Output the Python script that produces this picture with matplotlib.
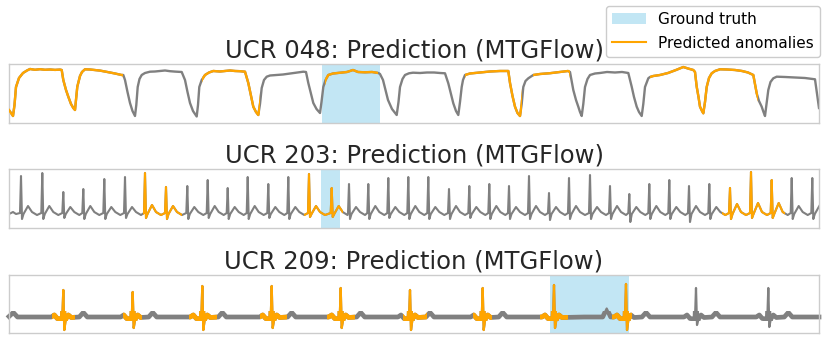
import numpy as np
import matplotlib
matplotlib.use("Agg")
import matplotlib.pyplot as plt
from matplotlib.patches import Patch, Rectangle
from matplotlib.lines import Line2D

# ---------------- data ----------------
titles = ["UCR 048: Prediction (MTGFlow)",
          "UCR 203: Prediction (MTGFlow)",
          "UCR 209: Prediction (MTGFlow)"]

ucr048_t = [0, 2, 4, 5.5, 7, 10, 14, 18, 21, 26, 31, 36, 41, 46, 51, 52.7,
            54.3, 57, 59.3, 62, 64.3, 66,
            67, 68.3, 71, 73, 76, 81, 86, 91, 96, 101, 106, 112.7, 114.3,
            116, 118.5, 121, 123.5, 126,
            127.3, 128.7, 130.5, 132.7, 136, 141, 146, 151, 156, 161, 166, 172.7,
            176, 178.5, 181, 184, 187.7,
            189, 190.3, 192.7, 196, 200, 204.3, 211, 216, 221, 226, 231, 236,
            239.3, 242, 244.3, 247, 249.3,
            251, 252.7, 255, 257.7, 261, 267.7, 274, 281, 288, 294.3, 297,
            299.3, 302, 304.3, 307.5, 311,
            312.5, 314.3, 316.5, 319.3, 324, 331, 338, 344, 349, 356, 363, 369.3, 371,
            374, 376.5, 379, 383, 387.7,
            389.5, 391, 393.5, 396, 400, 404, 411, 418, 425, 431, 436,
            439.3, 442, 444.3, 447, 449.3,
            451, 452.7, 454, 456, 461, 471, 481, 491, 499.3,
            501, 503.5, 506, 508.5, 511,
            512.7, 514.3, 516.5, 519.3, 524.3, 531, 541, 551, 559, 561,
            564.3, 567, 569.3, 571, 572.7,
            574.3, 576, 578.5, 581, 586, 591, 598, 606, 613, 619.3,
            622.7, 625, 627.7, 630, 632.7,
            634.3, 636, 639.3, 641, 644.3, 651, 659, 667, 674.3, 679, 684.3, 686,
            687.7, 689.5, 691, 693, 694.3,
            696, 697.7, 700, 702.7, 706, 711, 718, 726, 733, 739, 744.3,
            747.7, 750, 752.7, 754.5, 756,
            757.5, 759.3, 761.5, 764.3, 767.7, 776, 786, 796, 806, 809.3, 810]
ucr048_v = [0.6, 0.3, 0.0, 1.1, 2.9, 3.8, 4.3, 4.55, 4.7, 4.62, 4.68, 4.62, 4.65, 4.61, 4.64, 4.6,
            3.6, 2.6, 1.93, 1.2, 0.8, 0.6,
            1.6, 2.93, 4.0, 4.4, 4.67, 4.65, 4.6, 4.54, 4.45, 4.35, 4.25, 4.1, 4.1,
            3.6, 2.4, 1.3, 0.5, 0.0,
            1.1, 2.9, 3.7, 4.1, 4.3, 4.43, 4.45, 4.5, 4.55, 4.48, 4.44, 4.4,
            3.6, 2.4, 1.3, 0.5, -0.05,
            1.1, 2.9, 3.6, 4.1, 4.35, 4.5, 4.45, 4.5, 4.55, 4.5, 4.48, 4.43,
            3.3, 2.0, 0.93, 0.4, 0.1,
            1.2, 2.8, 3.6, 3.93, 4.05, 4.1, 4.15, 4.25, 4.35, 4.43, 4.4,
            3.3, 2.2, 1.3, 0.7, 0.3,
            1.4, 2.9, 3.6, 4.1, 4.25, 4.33, 4.4, 4.6, 4.4, 4.37, 4.4, 4.3, 4.2,
            3.6, 2.6, 1.6, 0.7, 0.1,
            1.4, 2.9, 3.7, 4.1, 4.27, 4.33, 4.3, 4.35, 4.35, 4.3, 4.27,
            3.27, 2.2, 1.27, 0.5, 0.1,
            1.4, 2.9, 3.6, 4.1, 4.25, 4.35, 4.45, 4.5, 4.5,
            3.3, 2.0, 0.93, 0.3, 0.0,
            1.2, 2.9, 3.5, 3.77, 4.1, 4.2, 4.28, 4.4, 4.5, 4.4,
            2.6, 1.6, 0.93, 0.4, 0.0,
            1.2, 2.9, 3.7, 4.1, 4.25, 4.3, 4.4, 4.35, 4.4, 4.3,
            2.93, 1.9, 0.93, 0.4, 0.0,
            1.2, 2.9, 3.77, 3.9, 4.0, 4.1, 4.3, 4.6, 4.9, 4.75, 4.6, 4.4,
            2.93, 1.9, 0.93, 0.5, 0.27,
            1.4, 2.9, 3.8, 4.27, 4.5, 4.67, 4.65, 4.6, 4.5, 4.35, 4.1,
            2.27, 1.5, 0.93, 0.4, 0.0,
            1.2, 2.6, 3.4, 3.77, 3.93, 3.9, 3.85, 3.8, 3.67, 1.27, 0.8]

ucr203_t = [0, 4, 7,
            11, 12, 13, 14.5, 19, 23, 28,
            32.3, 33.3, 34.3, 35.8, 40.3, 44.3, 49.3,
            53.3, 54.3, 55.3, 56.8, 61.3, 65.3, 70.3,
            73.3, 74.3, 75.3, 76.8, 81.3, 85.3, 90.3,
            94.3, 95.3, 96.3, 97.8, 102.3, 106.3, 111.3,
            115, 116, 117, 118.5, 123, 127, 132,
            135, 136, 137, 138.5, 143, 147, 152,
            156, 157, 158, 159.5, 164, 168, 173,
            177.3, 178.3, 179.3, 180.8, 185.3, 189.3, 194.3,
            197.7, 198.7, 199.7, 201.2, 205.7, 209.7, 214.7,
            217.7, 218.7, 219.7, 221.2, 225.7, 229.7, 234.7,
            237.7, 238.7, 239.7, 241.2, 245.7, 249.7, 254.7,
            258.3, 259.3, 260.3, 261.8, 266.3, 270.3, 275.3,
            278.3, 279.3, 280.3, 281.8, 286.3, 290.3, 295.3,
            299, 300, 301, 302.5, 307, 311, 316,
            321.7, 322.7, 323.7, 325.2, 329.7, 333.7, 338.5,
            339, 340, 341, 342.5, 347, 351, 356,
            358.3, 359.3, 360.3, 361.8, 366.3, 370.3, 375.3,
            378.3, 379.3, 380.3, 381.8, 386.3, 390.3, 395.3,
            398.3, 399.3, 400.3, 401.8, 406.3, 410.3, 415.3,
            418.3, 419.3, 420.3, 421.8, 426.3, 430.3, 435.3,
            439, 440, 441, 442.5, 447, 451, 456,
            459.3, 460.3, 461.3, 462.8, 467.3, 471.3, 476.3,
            479.3, 480.3, 481.3, 482.8, 487.3, 491.3, 496.3,
            499, 500, 501, 502.5, 507, 511, 516,
            519, 520, 521, 522.5, 527, 531, 536,
            539, 540, 541, 542.5, 547, 551, 556,
            559, 560, 561, 562.5, 567, 571, 576,
            580, 581, 582, 583.5, 588, 592, 597,
            600, 601, 602, 603.5, 608, 612, 617,
            619.3, 620.3, 621.3, 622.8, 627.3, 631.3, 636.3,
            639.3, 640.3, 641.3, 642.8, 647.3, 651.3, 656.3,
            659.3, 660.3, 661.3, 662.8, 667.3, 671.3, 676.3,
            679, 680, 681, 682.5, 687, 691, 696,
            699.3, 700.3, 701.3, 702.8, 707.3, 711.3, 716.3,
            720, 721, 722, 723.5, 728, 732, 737,
            741, 742, 743, 744.5, 749, 753, 758,
            761.7, 762.7, 763.7, 765.2, 769.7, 773.7, 778.7,
            781.7, 782.7, 783.7, 785.2, 789.7, 793.7, 798.7,
            802.3, 803.3, 804.3, 805.8, 810.3]
ucr203_v = [-0.1, 0.1, -0.1,
            0.0, 3.7, -0.6, -0.1, 0.7, 0.1, -0.2,
            0.0, 4.0, -0.6, -0.1, 0.7, 0.1, -0.2,
            0.0, 2.1, -0.5, -0.1, 0.6, 0.1, -0.2,
            0.0, 2.4, -0.6, -0.1, 0.7, 0.1, -0.2,
            0.0, 3.4, -0.6, -0.1, 0.6, 0.1, -0.2,
            0.0, 3.6, -0.5, -0.1, 0.6, 0.1, -0.2,
            0.0, 4.0, -0.5, -0.1, 0.8, 0.1, -0.2,
            0.0, 2.6, -0.6, -0.1, 0.7, 0.1, -0.2,
            0.0, 2.7, -0.6, -0.1, 0.6, 0.1, -0.2,
            0.0, 3.3, -0.5, -0.1, 0.7, 0.1, -0.2,
            0.0, 2.5, -0.6, -0.1, 0.6, 0.1, -0.2,
            0.0, 3.6, -0.6, -0.1, 0.7, 0.1, -0.2,
            0.0, 2.9, -0.5, -0.1, 0.6, 0.1, -0.2,
            0.0, 3.6, -0.6, -0.1, 0.6, 0.1, -0.2,
            0.0, 3.9, -0.4, -0.1, 0.7, 0.1, -0.2,
            0.0, 2.5, -0.4, -0.1, 0.7, 0.1, -0.2,
            0.0, 2.9, -0.6, -0.1, 0.6, 0.1, -0.2,
            0.0, 2.9, -0.6, -0.1, 0.7, 0.1, -0.2,
            0.0, 3.5, -0.5, -0.1, 0.6, 0.1, -0.2,
            0.0, 3.6, -0.6, -0.1, 0.7, 0.1, -0.2,
            0.0, 3.6, -0.6, -0.1, 0.6, 0.1, -0.2,
            0.0, 2.4, -0.6, -0.1, 0.7, 0.1, -0.2,
            0.0, 2.7, -0.5, -0.1, 0.6, 0.1, -0.2,
            0.0, 2.9, -0.6, -0.1, 0.7, 0.1, -0.2,
            0.0, 2.7, -0.6, -0.1, 0.6, 0.1, -0.2,
            0.0, 3.7, -0.6, -0.1, 0.7, 0.1, -0.2,
            0.0, 2.0, -0.7, -0.1, 0.6, 0.1, -0.2,
            0.0, 3.5, -0.6, -0.1, 0.7, 0.1, -0.2,
            0.0, 3.8, -0.6, -0.1, 0.6, 0.1, -0.2,
            0.0, 2.7, -0.6, -0.1, 0.7, 0.1, -0.2,
            0.0, 1.9, -0.9, -0.1, 0.6, 0.1, -0.2,
            0.0, 2.9, -0.6, -0.1, 0.7, 0.1, -0.2,
            0.0, 3.3, -0.6, -0.1, 0.6, 0.1, -0.2,
            0.0, 2.7, -0.9, -0.1, 0.7, 0.1, -0.2,
            0.0, 2.9, -0.6, -0.1, 0.6, 0.1, -0.2,
            0.0, 2.5, -0.6, -0.1, 0.9, 0.1, -0.2,
            0.0, 4.1, -0.5, -0.1, 1.0, 0.1, -0.2,
            0.0, 3.3, -0.5, -0.1, 1.0, 0.1, -0.2,
            0.0, 3.5, -0.6, -0.1, 0.7, 0.1, -0.2,
            0.0, 3.5, -0.6, -0.1, 0.7]

ucr209_t = [0, 4.3, 8.5, 30,
            42.3, 45.3, 48.3, 53.3, 54.3, 55.3, 56.8, 59.3, 62.3, 70.3, 74.3, 78.3, 99.3,
            111.7, 114.7, 117.7, 122.7, 123.7, 124.7, 126.2, 128.7, 131.7, 139.7, 143.7, 147.7, 168.7,
            181.3, 184.3, 187.3, 192.3, 193.3, 194.3, 195.8, 198.3, 201.3, 209.3, 213.3, 217.3, 238.3,
            250.7, 253.7, 256.7, 261.7, 262.7, 263.7, 265.2, 267.7, 270.7, 278.7, 282.7, 286.7, 307.7,
            319.7, 322.7, 325.7, 330.7, 331.7, 332.7, 334.2, 336.7, 339.7, 347.7, 351.7, 355.7, 376.7,
            389, 392, 395, 400, 401, 402, 403.5, 406, 409, 417, 421, 425, 446,
            461.7, 464.7, 467.7, 472.7, 473.7, 474.7, 476.2, 478.7, 481.7, 489.7, 493.7, 497.7, 518.7,
            533, 536, 539, 544, 545, 546, 547.5, 550, 553, 575, 593.7, 597.7, 601.7,
            605, 608, 611, 616, 617, 618, 619.5, 622, 625, 633, 637, 641, 662,
            675, 678, 681, 686, 687, 688, 689.5, 692, 695, 703, 707, 711, 732,
            747.3, 750.3, 753.3, 758.3, 759.3, 760.3, 761.8, 764.3, 767.3, 775.3, 779.3, 783.3, 804.3,
            810]
ucr209_v = [0.05, 0.45, 0.0, 0.0,
            0.0, 0.2, -0.15, -0.2, 2.7, -1.3, -0.2, 0.2, -0.05, 0.0, 0.45, 0.0, 0.0,
            0.0, 0.2, -0.15, -0.2, 2.5, -1.1, -0.2, 0.2, -0.05, 0.0, 0.45, 0.0, 0.0,
            0.0, 0.2, -0.15, -0.2, 3.1, -1.3, -0.2, 0.2, -0.05, 0.0, 0.45, 0.0, 0.0,
            0.0, 0.2, -0.15, -0.2, 3.1, -1.1, -0.2, 0.2, -0.05, 0.0, 0.45, 0.0, 0.0,
            0.0, 0.2, -0.15, -0.2, 2.9, -1.1, -0.2, 0.2, -0.05, 0.0, 0.45, 0.0, 0.0,
            0.0, 0.2, -0.15, -0.2, 2.7, -1.3, -0.2, 0.2, -0.05, 0.0, 0.45, 0.0, 0.0,
            0.0, 0.2, -0.15, -0.2, 2.9, -1.3, -0.2, 0.2, -0.05, 0.0, 0.45, 0.0, 0.0,
            0.0, 0.2, -0.15, -0.2, 3.2, -1.1, -0.2, 0.2, -0.05, 0.0, 0.0, 0.85, 0.0,
            0.0, 0.2, -0.15, -0.2, 3.3, -1.3, -0.2, 0.2, -0.05, 0.0, 0.45, 0.0, 0.0,
            0.0, 0.2, -0.15, -0.2, 2.9, -0.8, -0.2, 0.2, -0.05, 0.0, 0.45, 0.0, 0.0,
            0.0, 0.2, -0.15, -0.2, 2.9, -1.0, -0.2, 0.2, -0.05, 0.0, 0.45, 0.0, 0.0,
            0.0]

# predicted anomaly ranges and ground-truth ranges (time units)
pred_048 = [(0, 114.3), (192.7, 251), (316, 369.3), (456, 512.7), (524.3, 561), (641, 749.3)]
pred_203 = [(133.7, 172.7), (295, 333.7), (712.7, 776)]
pred_209 = [(42.7, 66), (114.3, 132.7), (180.3, 207.7), (251, 278.3), (318.3, 346),
            (393.7, 417.7), (464.3, 482.7), (531, 559.3), (602.7, 622.7)]
gt_048 = [(312.7, 371)]
gt_203 = [(312, 331)]
gt_209 = [(541, 620.3)]

# ---------------- style ----------------
GRAY = "#808080"
ORANGE = "#FFA500"
GT_COLOR = "skyblue"
SPINE = "#cccccc"

fig = plt.figure(figsize=(8.3, 3.4), dpi=100)

# (t, v, predicted, ground truth, ylim, line width, thick-band (lo, hi, lw) or None)
series = [(ucr048_t, ucr048_v, pred_048, gt_048, (-0.65, 5.17), 1.7, None),
          (ucr203_t, ucr203_v, pred_203, gt_203, (-1.53, 4.37), 1.5, None),
          (ucr209_t, ucr209_v, pred_209, gt_209, (-1.63, 4.2), 1.6, (-0.45, 0.6, 3.4))]
rects = [[9 / 830, 0.6397, 810 / 830, 0.1712],
         [9 / 830, 0.3285, 810 / 830, 0.1735],
         [9 / 830, 0.0197, 810 / 830, 0.1715]]


def clipped_line(ax, t, v, color, lw, x0, x1, y0, y1, z):
    ln, = ax.plot(t, v, color=color, lw=lw, zorder=z, solid_joinstyle="round")
    ln.set_clip_path(Rectangle((x0, y0), x1 - x0, y1 - y0, transform=ax.transData))


for (t, v, preds, gts, ylim, lw, band), rect, title in zip(series, rects, titles):
    ax = fig.add_axes(rect)
    t = np.asarray(t, float)
    v = np.asarray(v, float)
    for a, b in gts:
        ax.axvspan(a, b, color=GT_COLOR, alpha=0.5, lw=0, zorder=1)
    ax.plot(t, v, color=GRAY, lw=lw, zorder=2, solid_joinstyle="round")
    if band is not None:
        clipped_line(ax, t, v, GRAY, band[2], -10, 820, band[0], band[1], 2)
    for a, b in preds:
        clipped_line(ax, t, v, ORANGE, lw, a, b, ylim[0] - 5, ylim[1] + 5, 3)
        if band is not None:
            clipped_line(ax, t, v, ORANGE, band[2], a, b, band[0], band[1], 3)
    ax.set_xlim(0, 810)
    ax.set_ylim(*ylim)
    ax.set_xticks([])
    ax.set_yticks([])
    for s in ax.spines.values():
        s.set_color(SPINE)
        s.set_linewidth(1.0)
    ax.set_title(title, fontsize=17.5, color="#262626", pad=5)

handles = [Patch(facecolor=GT_COLOR, alpha=0.5, edgecolor="none", label="Ground truth"),
           Line2D([0], [0], color=ORANGE, lw=1.5, label="Predicted anomalies")]
fig.legend(handles=handles, loc="upper right", bbox_to_anchor=(820 / 830, 1 - 5.5 / 340),
           borderaxespad=0, fontsize=11, frameon=True, edgecolor=SPINE, framealpha=1,
           handlelength=2.2, labelspacing=0.6)

fig.savefig("out.png", dpi=100)
